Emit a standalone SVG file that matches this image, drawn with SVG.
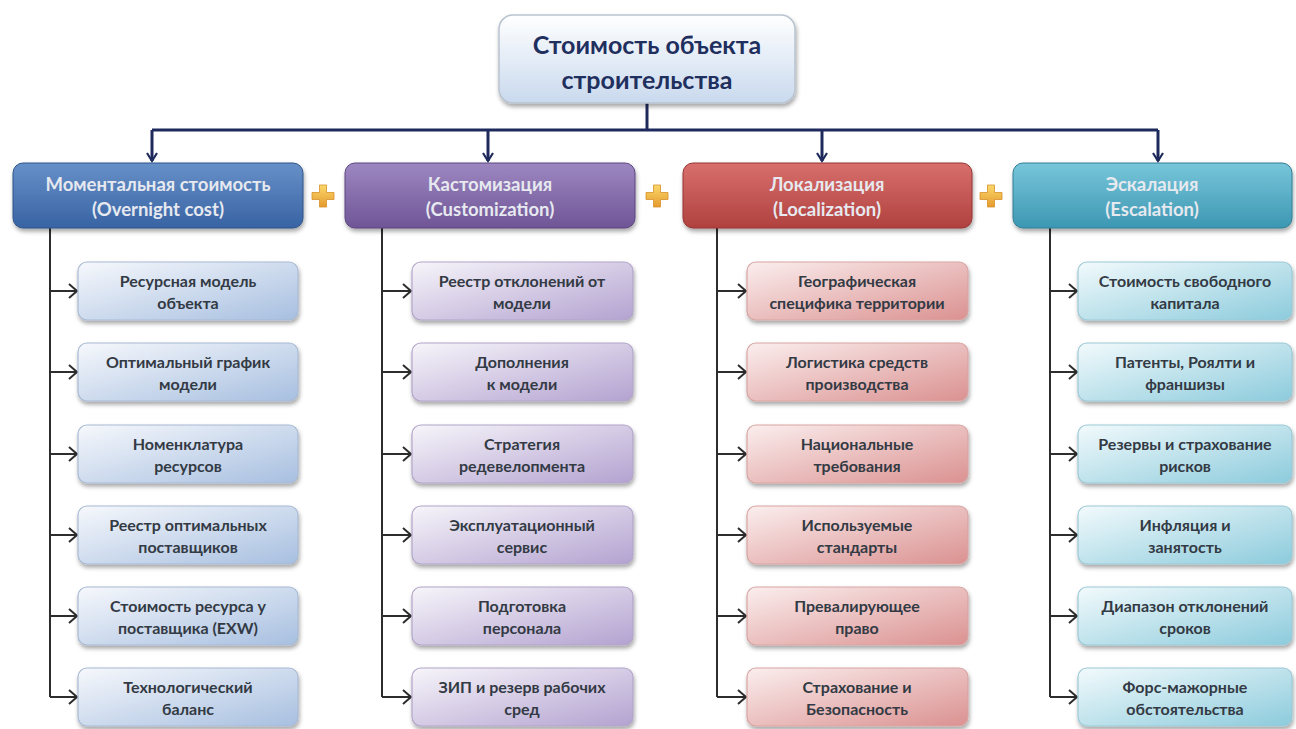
<svg xmlns="http://www.w3.org/2000/svg" width="1296" height="729" viewBox="0 0 1296 729">
  <defs>
    <style>
      .title { font-family: Lato, "Open Sans", "Liberation Sans", sans-serif; font-weight: 700; font-size: 25px; fill: #1f2f5e; text-anchor: middle; }
      .head { font-family: Lato, "Open Sans", "Liberation Sans", sans-serif; font-weight: 700; font-size: 18.5px; fill: #e6e9ef; text-anchor: middle; }
      .item { font-family: Lato, "Open Sans", "Liberation Sans", sans-serif; font-weight: 700; font-size: 16px; fill: #333a44; text-anchor: middle; }
      .main-link { fill: none; stroke: #1f2a5c; stroke-width: 3; }
      .sub-link { fill: none; stroke: #2d2d2d; stroke-width: 2; }
      .child { stroke-width: 1.2; filter: url(#shadow); }
      .header { filter: url(#shadow); }
    </style>
    <filter id="shadow" x="-10%" y="-20%" width="120%" height="150%">
      <feDropShadow dx="1" dy="3" stdDeviation="2" flood-color="#000" flood-opacity="0.35"/>
    </filter>
    <marker id="arrowMain" markerUnits="userSpaceOnUse" markerWidth="14" markerHeight="14" refX="9" refY="6" orient="auto">
      <path d="M1,1 L9,6 L1,11" fill="none" stroke="#1f2a5c" stroke-width="2.2"/>
    </marker>
    <marker id="arrowSub" markerUnits="userSpaceOnUse" markerWidth="14" markerHeight="18" refX="9" refY="8" orient="auto">
      <path d="M1,1 L9,8 L1,15" fill="none" stroke="#2d2d2d" stroke-width="2"/>
    </marker>
    <linearGradient id="gTop" x1="0" y1="0" x2="0" y2="1">
      <stop offset="0" stop-color="#ffffff"/>
      <stop offset="1" stop-color="#c9d9ee"/>
    </linearGradient>
    <linearGradient id="hBlue" x1="0" y1="0" x2="0" y2="1">
      <stop offset="0" stop-color="#6790c8"/>
      <stop offset="1" stop-color="#3863a3"/>
    </linearGradient>
    <linearGradient id="hPurple" x1="0" y1="0" x2="0" y2="1">
      <stop offset="0" stop-color="#9d87c1"/>
      <stop offset="1" stop-color="#6f5596"/>
    </linearGradient>
    <linearGradient id="hRed" x1="0" y1="0" x2="0" y2="1">
      <stop offset="0" stop-color="#d86f6c"/>
      <stop offset="1" stop-color="#b0413f"/>
    </linearGradient>
    <linearGradient id="hTeal" x1="0" y1="0" x2="0" y2="1">
      <stop offset="0" stop-color="#78c6da"/>
      <stop offset="1" stop-color="#3c97b2"/>
    </linearGradient>
    <linearGradient id="cBlue" x1="0" y1="0" x2="1" y2="1">
      <stop offset="0" stop-color="#f6f8fc"/>
      <stop offset="1" stop-color="#a7bfe0"/>
    </linearGradient>
    <linearGradient id="cPurple" x1="0" y1="0" x2="1" y2="1">
      <stop offset="0" stop-color="#f7f5fa"/>
      <stop offset="1" stop-color="#b3a2d0"/>
    </linearGradient>
    <linearGradient id="cRed" x1="0" y1="0" x2="1" y2="1">
      <stop offset="0" stop-color="#fbeeee"/>
      <stop offset="1" stop-color="#da9190"/>
    </linearGradient>
    <linearGradient id="cTeal" x1="0" y1="0" x2="1" y2="1">
      <stop offset="0" stop-color="#f2fafc"/>
      <stop offset="1" stop-color="#8ccbdc"/>
    </linearGradient>
    <linearGradient id="gPlus" x1="0" y1="0" x2="0" y2="1">
      <stop offset="0" stop-color="#fbd96a"/>
      <stop offset="1" stop-color="#e59a2e"/>
    </linearGradient>
    <path id="plus" d="M-3.5,-11 H3.5 V-3.5 H11 V3.5 H3.5 V11 H-3.5 V3.5 H-11 V-3.5 H-3.5 Z" fill="url(#gPlus)" stroke="#d8902a" stroke-width="0.8"/>
  </defs>

  <rect width="1296" height="729" fill="#ffffff"/>

  <!-- connectors -->
  <g id="connectors">
    <path class="main-link" d="M647,103 V130"/>
    <path class="main-link" d="M152,130 H1158"/>
    <path class="main-link" d="M152,130 V161" marker-end="url(#arrowMain)"/>
    <path class="main-link" d="M488,130 V161" marker-end="url(#arrowMain)"/>
    <path class="main-link" d="M822,130 V161" marker-end="url(#arrowMain)"/>
    <path class="main-link" d="M1158,130 V161" marker-end="url(#arrowMain)"/>

    <!-- column 1 branch -->
    <path class="sub-link" d="M50,228 V697"/>
    <path class="sub-link" d="M50,291 H77" marker-end="url(#arrowSub)"/>
    <path class="sub-link" d="M50,372 H77" marker-end="url(#arrowSub)"/>
    <path class="sub-link" d="M50,454 H77" marker-end="url(#arrowSub)"/>
    <path class="sub-link" d="M50,535 H77" marker-end="url(#arrowSub)"/>
    <path class="sub-link" d="M50,616 H77" marker-end="url(#arrowSub)"/>
    <path class="sub-link" d="M50,697 H77" marker-end="url(#arrowSub)"/>

    <!-- column 2 branch -->
    <path class="sub-link" d="M382,228 V697"/>
    <path class="sub-link" d="M382,291 H411" marker-end="url(#arrowSub)"/>
    <path class="sub-link" d="M382,372 H411" marker-end="url(#arrowSub)"/>
    <path class="sub-link" d="M382,454 H411" marker-end="url(#arrowSub)"/>
    <path class="sub-link" d="M382,535 H411" marker-end="url(#arrowSub)"/>
    <path class="sub-link" d="M382,616 H411" marker-end="url(#arrowSub)"/>
    <path class="sub-link" d="M382,697 H411" marker-end="url(#arrowSub)"/>

    <!-- column 3 branch -->
    <path class="sub-link" d="M717,228 V697"/>
    <path class="sub-link" d="M717,291 H746" marker-end="url(#arrowSub)"/>
    <path class="sub-link" d="M717,372 H746" marker-end="url(#arrowSub)"/>
    <path class="sub-link" d="M717,454 H746" marker-end="url(#arrowSub)"/>
    <path class="sub-link" d="M717,535 H746" marker-end="url(#arrowSub)"/>
    <path class="sub-link" d="M717,616 H746" marker-end="url(#arrowSub)"/>
    <path class="sub-link" d="M717,697 H746" marker-end="url(#arrowSub)"/>

    <!-- column 4 branch -->
    <path class="sub-link" d="M1050,228 V697"/>
    <path class="sub-link" d="M1050,291 H1077" marker-end="url(#arrowSub)"/>
    <path class="sub-link" d="M1050,372 H1077" marker-end="url(#arrowSub)"/>
    <path class="sub-link" d="M1050,454 H1077" marker-end="url(#arrowSub)"/>
    <path class="sub-link" d="M1050,535 H1077" marker-end="url(#arrowSub)"/>
    <path class="sub-link" d="M1050,616 H1077" marker-end="url(#arrowSub)"/>
    <path class="sub-link" d="M1050,697 H1077" marker-end="url(#arrowSub)"/>
  </g>

  <!-- root -->
  <g id="root">
    <rect x="499" y="15" width="296" height="88" rx="14" fill="url(#gTop)" stroke="#b9c3cf" stroke-width="1.5" filter="url(#shadow)"/>
    <text class="title" x="647" y="54">Стоимость объекта</text>
    <text class="title" x="647" y="89">строительства</text>
  </g>

  <!-- headers -->
  <g id="overnight">
    <rect class="header" x="13" y="163" width="290" height="65" rx="10" fill="url(#hBlue)" stroke="#2f5588" stroke-width="1"/>
    <text class="head" x="158" y="191">Моментальная стоимость</text>
    <text class="head" x="158" y="216">(Overnight cost)</text>
  </g>
  <g id="customization">
    <rect class="header" x="345" y="163" width="290" height="65" rx="10" fill="url(#hPurple)" stroke="#5c4580" stroke-width="1"/>
    <text class="head" x="490" y="191">Кастомизация</text>
    <text class="head" x="490" y="216">(Customization)</text>
  </g>
  <g id="localization">
    <rect class="header" x="683" y="163" width="289" height="65" rx="10" fill="url(#hRed)" stroke="#963533" stroke-width="1"/>
    <text class="head" x="827" y="191">Локализация</text>
    <text class="head" x="827" y="216">(Localization)</text>
  </g>
  <g id="escalation">
    <rect class="header" x="1013" y="163" width="279" height="65" rx="10" fill="url(#hTeal)" stroke="#317f96" stroke-width="1"/>
    <text class="head" x="1152" y="191">Эскалация</text>
    <text class="head" x="1152" y="216">(Escalation)</text>
  </g>

  <!-- plus signs between headers -->
  <g id="plus-signs">
    <use href="#plus" x="323" y="196"/>
    <use href="#plus" x="657" y="196"/>
    <use href="#plus" x="991" y="196"/>
  </g>

  <!-- column 1 items -->
  <g id="c1-1"><rect class="child" x="78" y="262" width="220" height="58" rx="9" fill="url(#cBlue)" stroke="#a8bad3"/><text class="item" x="188" y="287">Ресурсная модель</text><text class="item" x="188" y="309">объекта</text></g>
  <g id="c1-2"><rect class="child" x="78" y="343" width="220" height="58" rx="9" fill="url(#cBlue)" stroke="#a8bad3"/><text class="item" x="188" y="368">Оптимальный график</text><text class="item" x="188" y="390">модели</text></g>
  <g id="c1-3"><rect class="child" x="78" y="425" width="220" height="58" rx="9" fill="url(#cBlue)" stroke="#a8bad3"/><text class="item" x="188" y="450">Номенклатура</text><text class="item" x="188" y="472">ресурсов</text></g>
  <g id="c1-4"><rect class="child" x="78" y="506" width="220" height="58" rx="9" fill="url(#cBlue)" stroke="#a8bad3"/><text class="item" x="188" y="531">Реестр оптимальных</text><text class="item" x="188" y="553">поставщиков</text></g>
  <g id="c1-5"><rect class="child" x="78" y="587" width="220" height="58" rx="9" fill="url(#cBlue)" stroke="#a8bad3"/><text class="item" x="188" y="612">Стоимость ресурса у</text><text class="item" x="188" y="634">поставщика (EXW)</text></g>
  <g id="c1-6"><rect class="child" x="78" y="668" width="220" height="58" rx="9" fill="url(#cBlue)" stroke="#a8bad3"/><text class="item" x="188" y="693">Технологический</text><text class="item" x="188" y="715">баланс</text></g>

  <!-- column 2 items -->
  <g id="c2-1"><rect class="child" x="412" y="262" width="221" height="58" rx="9" fill="url(#cPurple)" stroke="#b2a5c8"/><text class="item" x="522" y="287">Реестр отклонений от</text><text class="item" x="522" y="309">модели</text></g>
  <g id="c2-2"><rect class="child" x="412" y="343" width="221" height="58" rx="9" fill="url(#cPurple)" stroke="#b2a5c8"/><text class="item" x="522" y="368">Дополнения</text><text class="item" x="522" y="390">к модели</text></g>
  <g id="c2-3"><rect class="child" x="412" y="425" width="221" height="58" rx="9" fill="url(#cPurple)" stroke="#b2a5c8"/><text class="item" x="522" y="450">Стратегия</text><text class="item" x="522" y="472">редевелопмента</text></g>
  <g id="c2-4"><rect class="child" x="412" y="506" width="221" height="58" rx="9" fill="url(#cPurple)" stroke="#b2a5c8"/><text class="item" x="522" y="531">Эксплуатационный</text><text class="item" x="522" y="553">сервис</text></g>
  <g id="c2-5"><rect class="child" x="412" y="587" width="221" height="58" rx="9" fill="url(#cPurple)" stroke="#b2a5c8"/><text class="item" x="522" y="612">Подготовка</text><text class="item" x="522" y="634">персонала</text></g>
  <g id="c2-6"><rect class="child" x="412" y="668" width="221" height="58" rx="9" fill="url(#cPurple)" stroke="#b2a5c8"/><text class="item" x="522" y="693">ЗИП и резерв рабочих</text><text class="item" x="522" y="715">сред</text></g>

  <!-- column 3 items -->
  <g id="c3-1"><rect class="child" x="747" y="262" width="221" height="58" rx="9" fill="url(#cRed)" stroke="#d7a5a4"/><text class="item" x="857" y="287">Географическая</text><text class="item" x="857" y="309">специфика территории</text></g>
  <g id="c3-2"><rect class="child" x="747" y="343" width="221" height="58" rx="9" fill="url(#cRed)" stroke="#d7a5a4"/><text class="item" x="857" y="368">Логистика средств</text><text class="item" x="857" y="390">производства</text></g>
  <g id="c3-3"><rect class="child" x="747" y="425" width="221" height="58" rx="9" fill="url(#cRed)" stroke="#d7a5a4"/><text class="item" x="857" y="450">Национальные</text><text class="item" x="857" y="472">требования</text></g>
  <g id="c3-4"><rect class="child" x="747" y="506" width="221" height="58" rx="9" fill="url(#cRed)" stroke="#d7a5a4"/><text class="item" x="857" y="531">Используемые</text><text class="item" x="857" y="553">стандарты</text></g>
  <g id="c3-5"><rect class="child" x="747" y="587" width="221" height="58" rx="9" fill="url(#cRed)" stroke="#d7a5a4"/><text class="item" x="857" y="612">Превалирующее</text><text class="item" x="857" y="634">право</text></g>
  <g id="c3-6"><rect class="child" x="747" y="668" width="221" height="58" rx="9" fill="url(#cRed)" stroke="#d7a5a4"/><text class="item" x="857" y="693">Страхование и</text><text class="item" x="857" y="715">Безопасность</text></g>

  <!-- column 4 items -->
  <g id="c4-1"><rect class="child" x="1078" y="262" width="214" height="58" rx="9" fill="url(#cTeal)" stroke="#9cc9d6"/><text class="item" x="1185" y="287">Стоимость свободного</text><text class="item" x="1185" y="309">капитала</text></g>
  <g id="c4-2"><rect class="child" x="1078" y="343" width="214" height="58" rx="9" fill="url(#cTeal)" stroke="#9cc9d6"/><text class="item" x="1185" y="368">Патенты, Роялти и</text><text class="item" x="1185" y="390">франшизы</text></g>
  <g id="c4-3"><rect class="child" x="1078" y="425" width="214" height="58" rx="9" fill="url(#cTeal)" stroke="#9cc9d6"/><text class="item" x="1185" y="450">Резервы и страхование</text><text class="item" x="1185" y="472">рисков</text></g>
  <g id="c4-4"><rect class="child" x="1078" y="506" width="214" height="58" rx="9" fill="url(#cTeal)" stroke="#9cc9d6"/><text class="item" x="1185" y="531">Инфляция и</text><text class="item" x="1185" y="553">занятость</text></g>
  <g id="c4-5"><rect class="child" x="1078" y="587" width="214" height="58" rx="9" fill="url(#cTeal)" stroke="#9cc9d6"/><text class="item" x="1185" y="612">Диапазон отклонений</text><text class="item" x="1185" y="634">сроков</text></g>
  <g id="c4-6"><rect class="child" x="1078" y="668" width="214" height="58" rx="9" fill="url(#cTeal)" stroke="#9cc9d6"/><text class="item" x="1185" y="693">Форс-мажорные</text><text class="item" x="1185" y="715">обстоятельства</text></g>
</svg>
